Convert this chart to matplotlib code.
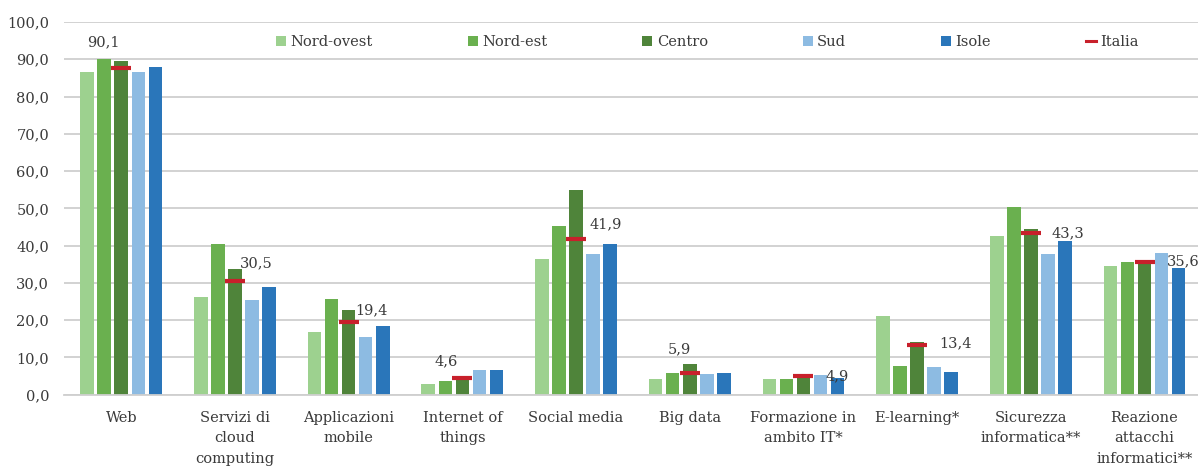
import matplotlib
matplotlib.use("Agg")
import matplotlib.pyplot as plt
from matplotlib.lines import Line2D
from matplotlib.patches import Patch
from matplotlib.ticker import FuncFormatter
import numpy as np

# Dati (percentuali per ripartizione territoriale)
categorie = ["Web", "Servizi di\ncloud\ncomputing", "Applicazioni\nmobile",
             "Internet of\nthings", "Social media", "Big data",
             "Formazione in\nambito IT*", "E-learning*",
             "Sicurezza\ninformatica**", "Reazione\nattacchi\ninformatici**"]
nord_ovest = [86.7, 26.3, 16.8, 2.8, 36.4, 4.3, 4.2, 21.0, 42.5, 34.6]
nord_est = [90.1, 40.5, 25.6, 3.8, 45.3, 5.8, 4.2, 7.8, 50.3, 35.5]
centro = [89.5, 33.8, 22.6, 3.9, 55.0, 8.3, 5.6, 14.1, 44.4, 35.8]
sud = [86.6, 25.3, 15.6, 6.5, 37.8, 5.6, 5.3, 7.4, 37.8, 38.0]
isole = [87.8, 28.8, 18.4, 6.5, 40.5, 5.8, 4.6, 6.1, 41.3, 34.1]
italia = [87.6, 30.5, 19.4, 4.6, 41.9, 5.9, 4.9, 13.4, 43.3, 35.6]
etichette_italia = ["90,1", "30,5", "19,4", "4,6", "41,9", "5,9", "4,9", "13,4", "43,3", "35,6"]

serie = [("Nord-ovest", nord_ovest, "#9DD18F"),
         ("Nord-est", nord_est, "#6AB04F"),
         ("Centro", centro, "#4F843A"),
         ("Sud", sud, "#8DBBE2"),
         ("Isole", isole, "#2A76BA")]

# posizione delle etichette rispetto al trattino rosso (pixel)
spost_etichette = [(-18, 26), (5, 18), (7, 12), (-16, 16), (13, 14),
                   (-10, 23), (22, 0), (22, 1), (21, 0), (22, 1)]
allinea = ["center", "left", "left", "center", "left",
           "center", "left", "left", "left", "left"]

testo = "#3A3A3A"
griglia = "#CFCFCF"
plt.rcParams["font.family"] = ["DejaVu Serif"]
plt.rcParams["font.size"] = 10

fig = plt.figure(figsize=(11.98, 4.69), dpi=100)
ax = fig.add_axes([64.4 / 1198, 1 - 394.7 / 469, 1137 / 1198, 372.7 / 469])

x = np.arange(len(categorie))
passo = 0.15
larghezza = 0.119
for i, (nome, valori, colore) in enumerate(serie):
    ax.bar(x + (i - 2) * passo, valori, width=larghezza, color=colore, zorder=2)

ax.plot(x, italia, linestyle="none", marker="_", markersize=14.4,
        markeredgewidth=3.0, color="#C8202B", zorder=4)

for xi, val, lab, (dx, dy), ha in zip(x, italia, etichette_italia, spost_etichette, allinea):
    ax.annotate(lab, (xi, val), xytext=(dx * 0.72, dy * 0.72), textcoords="offset points",
                ha=ha, va="center", fontsize=10.5, color=testo, zorder=5)

ax.set_ylim(0, 100)
ax.set_xlim(-0.5, len(categorie) - 0.5)
ax.set_yticks(np.arange(0, 101, 10))
ax.yaxis.set_major_formatter(FuncFormatter(lambda v, p: f"{v:.1f}".replace(".", ",")))
ax.grid(axis="y", color=griglia, linewidth=1.3, zorder=0)
ax.set_axisbelow(True)
for s in ["top", "right", "left"]:
    ax.spines[s].set_visible(False)
ax.spines["bottom"].set_color(griglia)
ax.spines["bottom"].set_linewidth(1.3)
ax.tick_params(axis="both", length=0, colors=testo, labelsize=10.5)
ax.tick_params(axis="y", pad=11)
ax.tick_params(axis="x", pad=11.5)
ax.set_xticks(x)
ax.set_xticklabels(categorie, linespacing=1.62)

maniglie = [Patch(facecolor=c, edgecolor="none", label=n) for n, _, c in serie]
maniglie.append(Line2D([0], [0], color="#C8202B", linewidth=2.2, label="Italia"))
fig.legend(handles=maniglie, loc="center left", bbox_to_anchor=(276 / 1198, 1 - 42 / 469),
           ncol=6, frameon=False, borderpad=0, borderaxespad=0, handlelength=0.7,
           handleheight=0.7, handletextpad=0.3, columnspacing=6.5, fontsize=10.5,
           labelcolor=testo)

fig.savefig("out.png", dpi=100)
